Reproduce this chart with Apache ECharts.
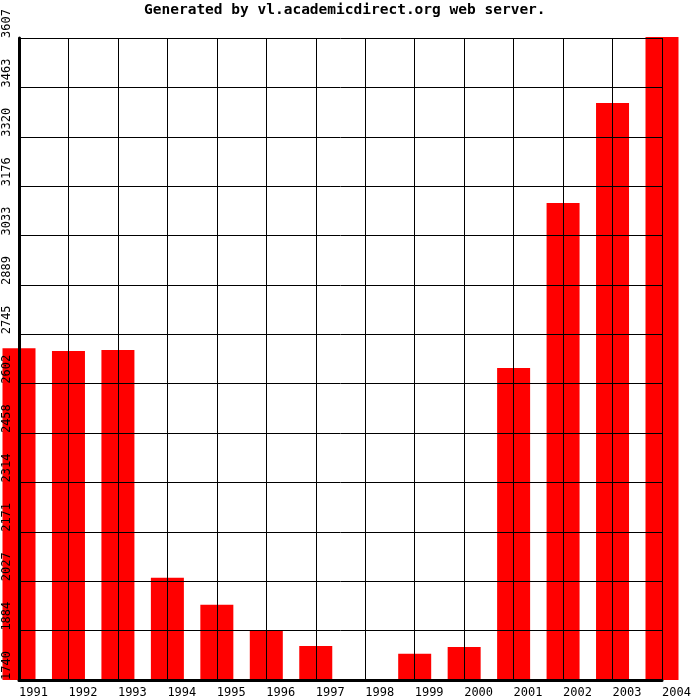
<!DOCTYPE html>
<html>
<head>
<meta charset="utf-8">
<script src="https://cdn.jsdelivr.net/npm/echarts@6/dist/echarts.min.js"></script>
<style>html,body{margin:0;padding:0;background:#fff}#c{width:700px;height:700px}</style>
</head>
<body>
<div id="c"></div>
<script>
var titleText = 'Generated by vl.academicdirect.org web server.';
var years = ['1991','1992','1993','1994','1995','1996','1997','1998','1999','2000','2001','2002','2003','2004'];
var values = [2705, 2697, 2700, 2037, 1959, 1884, 1839, 1740, 1816, 1836, 2647, 3127, 3418, 3610];
var yTickLabels = ['1740','1884','2027','2171','2314','2458','2602','2745','2889','3033','3176','3320','3463','3607'];
var yMin = 1740, yMax = 3607;

var chart = echarts.init(document.getElementById('c'), null, {renderer: 'canvas'});
var mono = '"DejaVu Sans Mono", monospace';
var barData = values.map(function (v, i) { return [i, v]; });
chart.setOption({
  backgroundColor: '#ffffff',
  animation: false,
  title: {
    text: titleText,
    left: 139, top: -2,
    textStyle: {fontFamily: mono, fontSize: 14.5, fontWeight: 'bold', color: '#000'}
  },
  grid: {left: 19, right: 38, top: 38, bottom: 20, containLabel: false, outerBoundsMode: 'none'},
  xAxis: {
    type: 'category',
    data: years,
    boundaryGap: false,
    z: 5,
    axisLine: {lineStyle: {color: '#000', width: 3}},
    axisTick: {show: false},
    splitLine: {show: true, lineStyle: {color: '#000', width: 1}},
    axisLabel: {
      interval: 0, align: 'left', margin: 7,
      fontFamily: mono, fontSize: 12, color: '#000'
    }
  },
  yAxis: {
    type: 'value',
    min: yMin, max: yMax,
    interval: (yMax - yMin) / (yTickLabels.length - 1),
    z: 5,
    axisLine: {show: true, lineStyle: {color: '#000', width: 3}},
    axisTick: {show: false},
    splitLine: {show: true, lineStyle: {color: '#000', width: 1}},
    axisLabel: {
      rotate: 90, align: 'left', verticalAlign: 'bottom', margin: 6,
      fontFamily: mono, fontSize: 12, color: '#000',
      formatter: function (v, i) { return yTickLabels[i] !== undefined ? yTickLabels[i] : String(Math.round(v)); }
    }
  },
  series: [{
    type: 'custom',
    data: barData,
    encode: {x: 0, y: 1},
    clip: false,
    z: 1,
    renderItem: function (params, api) {
      var top = api.coord([api.value(0), api.value(1)]);
      var base = api.coord([api.value(0), yMin]);
      var w = 33;
      return {
        type: 'rect',
        shape: {x: top[0] - w / 2, y: top[1], width: w, height: base[1] - top[1]},
        style: {fill: '#ff0000'}
      };
    }
  }]
});
</script>
</body>
</html>
